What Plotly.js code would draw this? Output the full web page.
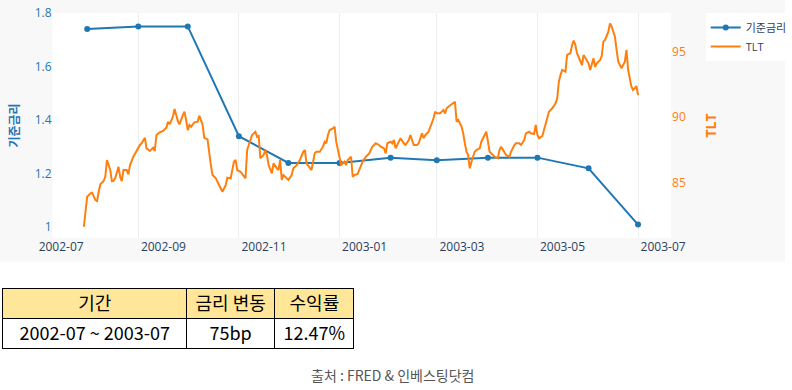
<!DOCTYPE html>
<html>
<head>
<meta charset="utf-8">
<script src="https://cdn.plot.ly/plotly-3.0.1.min.js"></script>
<style>
html,body{margin:0;padding:0;background:#ffffff;}
#chart{width:792px;height:390px;}
</style>
</head>
<body>
<div id="chart"></div>
<script>
// ---- data ----
const rateName = '기준금리';
const tltName = 'TLT';
const rateDates = ['2002-08-01','2002-09-01','2002-10-01','2002-11-01','2002-12-01','2003-01-01','2003-02-01','2003-03-01','2003-04-01','2003-05-01','2003-06-01','2003-07-01'];
const rateValues = [1.74,1.75,1.75,1.34,1.24,1.24,1.26,1.25,1.26,1.26,1.22,1.01];

const tltDates = [
'2002-07-30','2002-07-31','2002-08-01','2002-08-03','2002-08-04','2002-08-06','2002-08-07','2002-08-08','2002-08-09','2002-08-11',
'2002-08-12','2002-08-13','2002-08-15','2002-08-16','2002-08-17','2002-08-18','2002-08-20','2002-08-21','2002-08-22','2002-08-23',
'2002-08-25','2002-08-26','2002-08-27','2002-08-29','2002-08-31','2002-09-02','2002-09-03','2002-09-05','2002-09-06','2002-09-07',
'2002-09-08','2002-09-10','2002-09-11','2002-09-12','2002-09-14','2002-09-16','2002-09-18','2002-09-19','2002-09-20','2002-09-22',
'2002-09-23','2002-09-25','2002-09-26','2002-09-28','2002-09-29','2002-09-30','2002-10-01','2002-10-02','2002-10-03','2002-10-05',
'2002-10-07','2002-10-08','2002-10-10','2002-10-11','2002-10-13','2002-10-15','2002-10-16','2002-10-18','2002-10-20','2002-10-22',
'2002-10-24','2002-10-25','2002-10-27','2002-10-29','2002-10-30','2002-10-31','2002-11-02','2002-11-05','2002-11-06','2002-11-08',
'2002-11-09','2002-11-11','2002-11-12','2002-11-13','2002-11-14','2002-11-16','2002-11-17','2002-11-18','2002-11-19','2002-11-21',
'2002-11-22','2002-11-24','2002-11-25','2002-11-26','2002-11-27','2002-11-28','2002-11-30','2002-12-01','2002-12-03','2002-12-04',
'2002-12-06','2002-12-08','2002-12-10','2002-12-11','2002-12-12','2002-12-14','2002-12-15','2002-12-17','2002-12-18','2002-12-20',
'2002-12-22','2002-12-23','2002-12-24','2002-12-25','2002-12-26','2002-12-28','2002-12-29','2002-12-30','2003-01-01','2003-01-02',
'2003-01-04','2003-01-05','2003-01-06','2003-01-08','2003-01-09','2003-01-10','2003-01-12','2003-01-13','2003-01-15','2003-01-17',
'2003-01-19','2003-01-21','2003-01-23','2003-01-25','2003-01-26','2003-01-28','2003-01-29','2003-01-30','2003-02-01','2003-02-02',
'2003-02-03','2003-02-04','2003-02-06','2003-02-07','2003-02-09','2003-02-10','2003-02-12','2003-02-13','2003-02-15','2003-02-17',
'2003-02-18','2003-02-20','2003-02-21','2003-02-22','2003-02-24','2003-02-26','2003-02-27','2003-02-28','2003-03-01','2003-03-03',
'2003-03-04','2003-03-05','2003-03-06','2003-03-07','2003-03-08','2003-03-10','2003-03-11','2003-03-12','2003-03-13','2003-03-14',
'2003-03-16','2003-03-17','2003-03-18','2003-03-19','2003-03-20','2003-03-21','2003-03-22','2003-03-24','2003-03-25','2003-03-27',
'2003-03-28','2003-03-30','2003-03-31','2003-04-01','2003-04-02','2003-04-04','2003-04-05','2003-04-07','2003-04-08','2003-04-09',
'2003-04-11','2003-04-12','2003-04-14','2003-04-15','2003-04-17','2003-04-18','2003-04-20','2003-04-21','2003-04-23','2003-04-24',
'2003-04-26','2003-04-27','2003-04-29','2003-04-30','2003-05-01','2003-05-02','2003-05-04','2003-05-05','2003-05-07','2003-05-08',
'2003-05-10','2003-05-12','2003-05-13','2003-05-14','2003-05-15','2003-05-16','2003-05-18','2003-05-19','2003-05-21','2003-05-22',
'2003-05-23','2003-05-24','2003-05-25','2003-05-27','2003-05-28','2003-05-29','2003-05-31','2003-06-01','2003-06-02','2003-06-04',
'2003-06-05','2003-06-06','2003-06-08','2003-06-09','2003-06-10','2003-06-11','2003-06-13','2003-06-14','2003-06-15','2003-06-16',
'2003-06-17','2003-06-18','2003-06-19','2003-06-21','2003-06-22','2003-06-23','2003-06-24','2003-06-25','2003-06-27','2003-06-28',
'2003-06-29','2003-06-30','2003-07-01'];
const tltValues = [
81.60,82.75,83.90,84.16,84.20,83.64,83.57,84.28,84.85,85.10,
85.43,86.71,85.94,85.10,85.12,85.31,86.19,85.43,85.10,85.94,
85.94,85.61,86.32,86.96,87.47,87.86,87.99,88.41,87.60,87.47,
87.40,87.65,87.40,88.62,88.83,88.93,89.18,89.64,89.44,90.02,
90.61,89.69,89.44,90.15,90.41,89.77,89.00,89.39,89.26,89.59,
89.64,90.10,89.39,88.41,88.29,86.32,85.56,85.31,84.79,84.28,
84.79,85.35,85.31,86.58,86.71,85.94,85.81,85.31,87.47,88.37,
88.62,88.87,88.49,88.55,86.84,87.09,87.47,87.09,86.32,85.69,
86.45,86.07,85.94,86.71,85.18,85.56,85.31,85.18,85.56,86.07,
86.32,86.71,87.34,87.47,86.45,86.07,85.94,87.22,87.34,87.34,
87.73,88.11,87.99,88.62,89.00,89.13,89.26,88.11,86.71,86.32,
86.58,86.32,86.71,86.96,85.43,85.56,85.64,85.94,86.58,86.96,
87.22,87.73,87.99,87.86,87.73,87.60,87.22,87.99,88.11,87.99,
88.24,87.60,88.11,88.37,87.99,87.86,88.24,88.62,87.86,87.86,
87.99,88.75,88.37,88.62,88.87,89.52,89.90,90.41,90.28,90.28,
90.41,90.54,90.28,90.67,90.79,91.00,91.09,91.17,89.64,89.77,
89.26,88.75,87.99,87.34,87.09,86.07,86.58,87.34,87.47,87.60,
88.11,88.62,88.87,88.11,87.34,87.09,86.96,86.84,87.47,87.73,
87.34,87.09,86.96,87.34,87.86,87.99,87.99,87.86,88.24,88.75,
88.87,88.75,88.70,89.39,88.62,88.37,88.55,89.00,89.77,90.41,
90.67,91.05,91.43,92.70,93.22,93.60,93.47,94.75,94.88,95.51,
95.84,95.51,94.88,94.36,93.98,94.75,94.36,94.11,93.60,94.49,
93.85,94.11,94.36,94.67,95.77,95.90,96.53,97.17,96.91,96.53,
96.15,95.13,94.23,93.73,93.98,94.23,95.13,93.60,92.32,92.07,
92.20,92.37,91.68];

const tableHeader = ['기간', '금리\u00a0변동', '수익률'];
const tableRow = ['2002-07\u00a0~\u00a02003-07', '75bp', '12.47%'];
const sourceText = '출처 : FRED & 인베스팅닷컴';

// ---- figure ----
const W = 792, H = 390;
const px = v => v / W;
const py = v => 1 - v / H;
const FONT = '"Open Sans", "Noto Sans CJK KR", sans-serif';
const KR = '"Noto Sans CJK KR", "Noto Sans", sans-serif';
const BLUE = '#1f77b4', ORANGE = '#ff7f0e';

const traces = [
  {
    type: 'scatter', mode: 'lines+markers', name: rateName,
    x: rateDates, y: rateValues, xaxis: 'x', yaxis: 'y',
    line: {color: BLUE, width: 2}, marker: {color: BLUE, size: 6}
  },
  {
    type: 'scatter', mode: 'lines', name: tltName,
    x: tltDates, y: tltValues, xaxis: 'x', yaxis: 'y2',
    line: {color: ORANGE, width: 2}
  },
  {
    type: 'table',
    domain: {x: [px(3), px(358)], y: [py(349), py(288)]},
    columnwidth: [183, 88, 79],
    header: {
      values: tableHeader.map(v => [v]), align: 'center', height: 30,
      fill: {color: '#FFE699'}, line: {color: '#000000', width: 1},
      font: {family: KR, size: 18, color: '#000000'}
    },
    cells: {
      values: tableRow.map(v => [v]), align: 'center', height: 30,
      fill: {color: '#ffffff'}, line: {color: '#000000', width: 1},
      font: {family: KR, size: 18, color: '#000000'}
    }
  }
];

const layout = {
  width: W, height: H,
  margin: {l: 0, r: 0, t: 0, b: 0},
  paper_bgcolor: '#ffffff', plot_bgcolor: '#ffffff',
  font: {family: FONT, size: 12, color: '#2a3f5f'},
  showlegend: true,
  legend: {
    x: px(712), y: py(13), xanchor: 'left', yanchor: 'top',
    bgcolor: '#ffffff', font: {family: FONT, size: 11, color: '#2a3f5f'}
  },
  xaxis: {
    domain: [px(53), px(677)], anchor: 'y', type: 'date',
    range: ['2002-07-11', '2003-07-21'],
    dtick: 'M2', tick0: '2002-07-01', tickformat: '%Y-%m', ticklabelmode: 'period',
    showgrid: true, gridcolor: '#eeeeee', zeroline: false, showline: false, ticks: '',
    tickfont: {size: 12, color: '#2a3f5f'}
  },
  yaxis: {
    domain: [py(238), py(13)], anchor: 'x',
    range: [0.96, 1.80], dtick: 0.2,
    showgrid: false, zeroline: false, showline: false, ticks: '',
    tickfont: {size: 12, color: BLUE},
    title: {text: rateName, font: {size: 12, color: BLUE, weight: 'bold'}}
  },
  yaxis2: {
    overlaying: 'y', side: 'right', anchor: 'x',
    range: [80.74, 97.96], dtick: 5,
    showgrid: false, zeroline: false, showline: false, ticks: '',
    tickfont: {size: 12, color: ORANGE},
    title: {text: tltName, font: {size: 14, color: ORANGE, weight: 'bold'}}
  },
  shapes: [
    {type: 'rect', xref: 'paper', yref: 'paper', x0: 0, x1: 1, y0: py(262), y1: 1,
     fillcolor: '#f8f8f8', line: {width: 0}, layer: 'below'},
    {type: 'rect', xref: 'x domain', yref: 'y domain', x0: 0, x1: 1, y0: 0, y1: 1,
     fillcolor: '#ffffff', line: {width: 0}, layer: 'below'}
  ],
  annotations: [
    {text: sourceText, xref: 'paper', yref: 'paper', x: px(396), y: py(375),
     xanchor: 'center', yanchor: 'middle', showarrow: false,
     font: {family: KR, size: 14, color: '#555555'}}
  ]
};

Plotly.newPlot('chart', traces, layout, {displayModeBar: false, staticPlot: true});
</script>
</body>
</html>
